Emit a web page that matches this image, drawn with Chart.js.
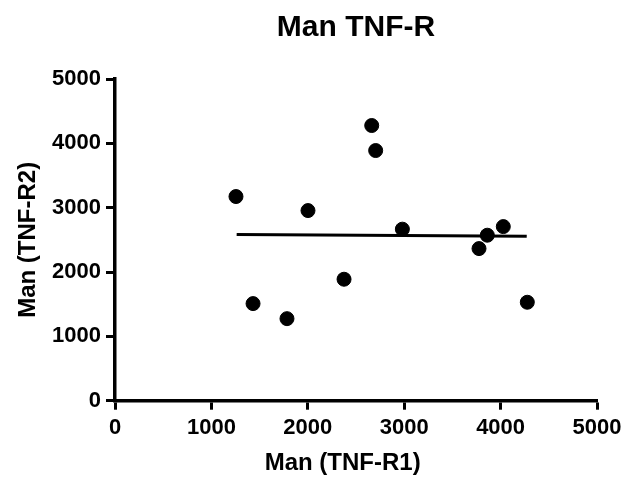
<!DOCTYPE html>
<html lang="en">
    <head>
        <meta charset="UTF-8">
        <title>Man TNF-R</title>
        <script src="https://cdn.jsdelivr.net/npm/chart.js"></script>
        <style>
            body,
            html {
                margin: 0;
                background: white;
            }
            .box {
                width: 635px;
                height: 482px;
            }
        </style>
    </head>
    <body>
        <div class="box">
            <canvas id="myChart"></canvas>
        </div>

        <script>
            // values
            const tnfR1 = [1255, 1432, 1784, 2002, 2376, 2663, 2704, 2981, 3776, 3862, 4028, 4277];
            const tnfR2 = [3173, 1509, 1275, 2955, 1888, 4277, 3888, 2666, 2364, 2572, 2706, 1530];
            const fitX = [1262, 4271];
            const fitY = [2582, 2557];
            const axisMin = 0;
            const axisMax = 5000;
            const axisStep = 1000;

            Chart.defaults.color = '#000';
            Chart.defaults.font.family = '"Liberation Sans", Arial, sans-serif';
            Chart.defaults.font.weight = 'bold';

            const points = tnfR1.map((x, i) => ({x: x, y: tnfR2[i]}));
            const fitLine = fitX.map((x, i) => ({x: x, y: fitY[i]}));

            const axisStyle = {
                min: axisMin,
                max: axisMax,
                border: {color: '#000', width: 3.5},
                grid: {
                    display: true,
                    drawOnChartArea: false,
                    tickLength: 9,
                    tickWidth: 3,
                    tickColor: '#000'
                }
            };

            const tickStyle = {
                stepSize: axisStep,
                padding: 5,
                font: {size: 22, weight: 'bold'},
                maxRotation: 0,
                callback: (v) => String(v)
            };

            const ctx = document.getElementById('myChart').getContext('2d');
            window.myChart = new Chart(ctx, {
                type: 'scatter',
                data: {
                    datasets: [
                        {
                            label: 'Man',
                            data: points,
                            backgroundColor: '#000',
                            borderColor: '#000',
                            pointRadius: 7,
                            pointHoverRadius: 7
                        },
                        {
                            type: 'line',
                            label: 'fit',
                            data: fitLine,
                            borderColor: '#000',
                            borderWidth: 3,
                            pointRadius: 0,
                            fill: false
                        }
                    ]
                },
                options: {
                    responsive: true,
                    maintainAspectRatio: false,
                    animation: false,
                    layout: {padding: {left: 0, right: 38, top: 0, bottom: 0}},
                    plugins: {
                        legend: {display: false},
                        tooltip: {enabled: false},
                        title: {
                            display: true,
                            fullSize: false,
                            text: 'Man TNF-R',
                            color: '#000',
                            font: {size: 30, weight: 'bold'},
                            padding: {top: 10, bottom: 33}
                        }
                    },
                    scales: {
                        x: {
                            ...axisStyle,
                            type: 'linear',
                            ticks: tickStyle,
                            title: {
                                display: true,
                                text: 'Man (TNF-R1)\u00a0\u00a0\u00a0\u00a0',
                                font: {size: 24, weight: 'bold'},
                                padding: {top: 0, bottom: 4}
                            },
                            afterFit: (scale) => { scale.height = 81.3; }
                        },
                        y: {
                            ...axisStyle,
                            type: 'linear',
                            ticks: tickStyle,
                            title: {
                                display: true,
                                text: 'Man (TNF-R2)',
                                font: {size: 24, weight: 'bold'},
                                padding: {top: 14, bottom: 0}
                            },
                            afterFit: (scale) => { scale.width = 115; }
                        }
                    }
                }
            });
        </script>
    </body>
</html>
